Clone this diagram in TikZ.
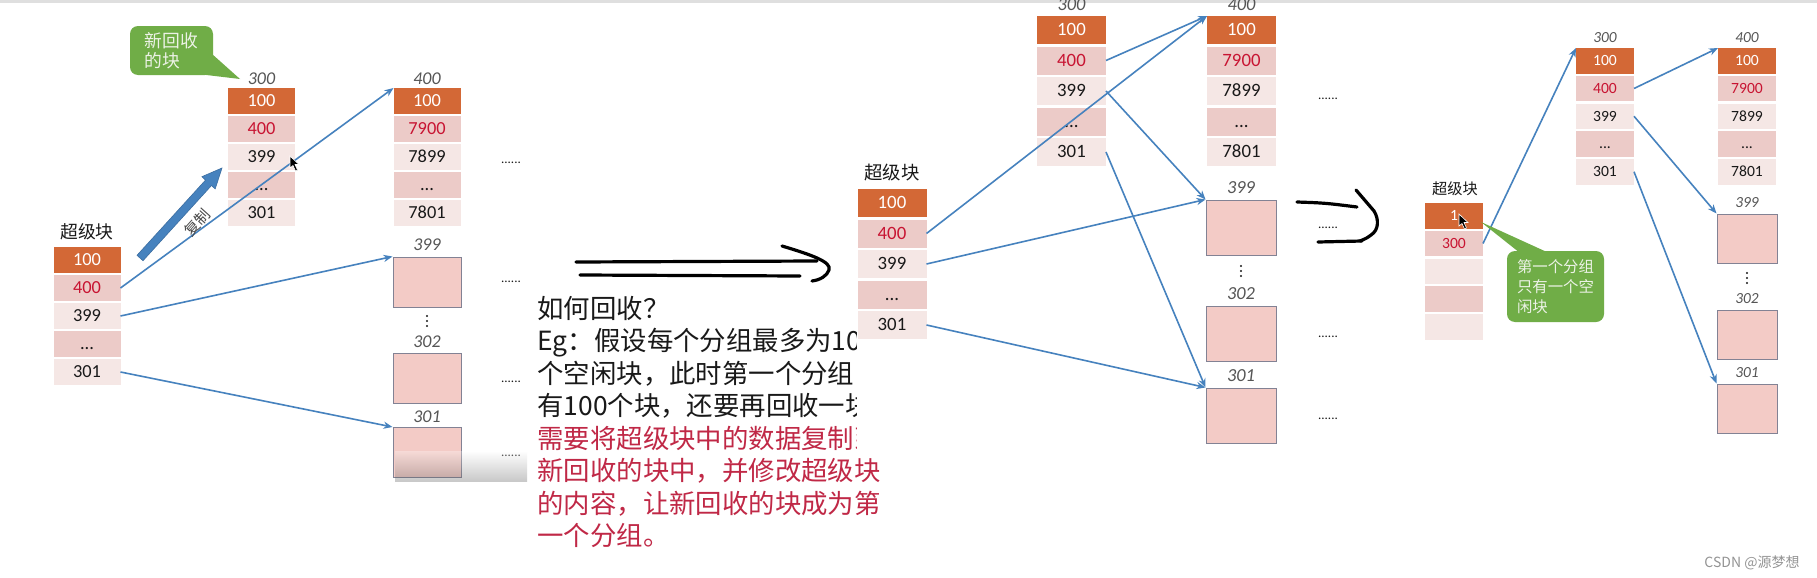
\documentclass[tikz,border=0pt]{standalone}
\usepackage{fontspec}
\setmainfont{Carlito}
\newfontfamily\cjk{Noto Sans CJK SC}
\usetikzlibrary{arrows.meta}
\definecolor{orC}{RGB}{211,104,54}
\definecolor{pkC}{RGB}{236,203,200}
\definecolor{ltC}{RGB}{245,231,229}
\definecolor{rdC}{RGB}{200,20,50}
\definecolor{txC}{RGB}{25,25,25}
\definecolor{bxC}{RGB}{243,203,198}
\definecolor{bxD}{RGB}{130,130,148}
\definecolor{arC}{RGB}{70,130,190}
\definecolor{gnC}{RGB}{112,173,71}
\definecolor{gnT}{RGB}{236,242,230}
\definecolor{lbC}{RGB}{85,85,85}
\definecolor{exR}{RGB}{192,40,70}
\newcommand{\threedots}{...}
\newcommand{\blockcol}[6]{%
  \foreach \f/\c/\t [count=\i] in {#6}{%
    \node[cell,#5,fill=\f,text=\c] (#1-\i) at (#2,{#3+(\i-1)*#4}) {\t};}}
\tikzset{
  cell/.style={inner sep=0pt, outer sep=0pt, draw=none, text depth=0pt},
  pA/.style={minimum width=33.5pt, minimum height=13pt, font=\fontsize{9.2pt}{10pt}\selectfont, text height=5.8pt},
  pB/.style={minimum width=34.5pt, minimum height=14pt, font=\fontsize{9.4pt}{10pt}\selectfont, text height=5.9pt},
  pC/.style={minimum width=29pt, minimum height=12.75pt, font=\fontsize{7.8pt}{9pt}\selectfont, text height=4.9pt},
  box/.style={fill=bxC, draw=bxD, line width=0.5pt, inner sep=0pt},
  bA/.style={minimum width=34pt, minimum height=25pt},
  bB/.style={minimum width=35pt, minimum height=27.5pt},
  bC/.style={minimum width=30pt, minimum height=24.5pt},
  lbl/.style={inner sep=0pt, text=lbC, font=\fontsize{#1}{10pt}\selectfont\itshape},
  sbl/.style={inner sep=0pt, text=txC, font=\cjk\fontsize{#1}{10pt}\selectfont},
  dts/.style={inner sep=0pt, anchor=base, text=txC, font=\fontsize{6.5pt}{7pt}\selectfont},
  conn/.style={draw=arC, line width=0.8pt, -{Stealth[length=4.5pt,width=3.6pt]}},
  hand/.style={draw=black, line width=1.6pt, line cap=round, line join=round},
  expl/.style={inner sep=0pt, anchor=base west, text=txC, font=\cjk\fontsize{13.2pt}{16pt}\selectfont},
  callout/.style={fill=gnC, rounded corners=4pt, inner sep=0pt, text=gnT, align=left},
}
\begin{document}
\begin{tikzpicture}[x=0.5pt,y=-0.5pt]
\useasboundingbox[fill=white] (0,0) rectangle (1817,578);
\draw[gray!25, line width=1.5pt] (0,1.5) -- (1817,1.5);

% ---------------- Panel 1 ----------------
\node[sbl=8.9pt] (s1l) at (87,232) {超级块};
\blockcol{s1}{87}{260}{28}{pA}{orC/white/100, pkC/rdC/400, ltC/txC/399, pkC/txC/\threedots, ltC/txC/301}
\node[lbl=9pt] (b1al) at (261.5,79) {300};
\blockcol{b1a}{261.5}{101}{28}{pA}{orC/white/100, pkC/rdC/400, ltC/txC/399, pkC/txC/\threedots, ltC/txC/301}
\node[lbl=9pt] (b1bl) at (427,79) {400};
\blockcol{b1b}{427}{101}{28}{pA}{orC/white/100, pkC/rdC/7900, ltC/txC/7899, pkC/txC/\threedots, ltC/txC/7801}
\node[lbl=9pt] (x1al) at (427,245) {399};
\node[box,bA] (x1a) at (427,282) {};
\fill[txC] (427,316) circle (1.1) (427,321) circle (1.1) (427,326) circle (1.1);
\node[lbl=9pt] (x1bl) at (427,342) {302};
\node[box,bA] (x1b) at (427,378) {};
\node[lbl=9pt] (x1cl) at (427,417) {301};
\node[box,bA] (x1c) at (427,452.5) {};
\node[dts] (d1a) at (511,163) {......};
\node[dts] (d1b) at (511,282) {......};
\node[dts] (d1c) at (511,382) {......};
\node[dts] (d1d) at (511,456) {......};
\shade[top color=white, bottom color=black!70, opacity=0.3] (395,451) rectangle (527,481);
\draw[conn] (s1-2.east) -- (b1b-1.north west);
\draw[conn] (s1-3.east) -- (x1a.north west);
\draw[conn] (s1-5.east) -- (x1c.north west);
% thick copy arrow
\filldraw[fill=arC, draw=arC!85!black, line width=0.3pt]
  (137.0,255.3) -- (205.5,180.1) -- (201.9,176.7) -- (222,168) -- (215.2,188.9) -- (211.5,185.5) -- (143.0,260.7) -- cycle;
\node[inner sep=0pt, rotate=48, text=txC!80, font=\cjk\fontsize{7.5pt}{8pt}\selectfont] (cp) at (197,223) {复制};
% callout 1
\fill[gnC] (198,74) -- (240,79) -- (212,54) -- cycle;
\node[callout, minimum width=41.5pt, minimum height=24.5pt, font=\cjk\fontsize{8.9pt}{10pt}\selectfont] (cb1) at (171.5,50.5) {新回收\\的块};
% cursor
\filldraw[black, draw=white, line width=0.3pt] (290,156) -- (290,168) -- (293,165.5) -- (295.5,171) -- (297.5,170) -- (295,164.5) -- (299,164.5) -- cycle;

% ---------------- hand arrow 1 ----------------
\draw[hand] (576,262) -- (817,261);
\draw[hand] (580,275) -- (800,276);
\draw[hand] (782,246) .. controls (812,255) and (832,262) .. (829,270) .. controls (827,276) and (820,280) .. (812,281);

% ---------------- explanation text ----------------
\begin{scope}
\clip (530,285) -- (856,285) -- (856,455) -- (900,455) -- (900,560) -- (530,560) -- cycle;
\node[expl] (e1) at (537,318) {如何回收？};
\node[expl] (e2) at (537,350.5) {Eg：假设每个分组最多为100};
\node[expl] (e3) at (537,383) {个空闲块，此时第一个分组};
\node[expl] (e4) at (537,415.5) {有100个块，还要再回收一块};
\node[expl, text=exR] (e5) at (537,448) {需要将超级块中的数据复制到};
\node[expl, text=exR] (e6) at (537,480.5) {新回收的块中，并修改超级块};
\node[expl, text=exR] (e7) at (537,513) {的内容，让新回收的块成为第};
\node[expl, text=exR] (e8) at (537,545.5) {一个分组。};
\end{scope}

% ---------------- Panel 2 ----------------
\node[sbl=9.2pt] (s2l) at (892,173) {超级块};
\blockcol{s2}{892}{203}{30.5}{pB}{orC/white/100, pkC/rdC/400, ltC/txC/399, pkC/txC/\threedots, ltC/txC/301}
\node[lbl=9.2pt] (b2al) at (1071.5,5) {300};
\blockcol{b2a}{1071.5}{30}{30.5}{pB}{orC/white/100, pkC/rdC/400, ltC/txC/399, pkC/txC/\threedots, ltC/txC/301}
\node[lbl=9.2pt] (b2bl) at (1241.5,5) {400};
\blockcol{b2b}{1241.5}{30}{30.5}{pB}{orC/white/100, pkC/rdC/7900, ltC/txC/7899, pkC/txC/\threedots, ltC/txC/7801}
\node[lbl=9.2pt] (x2al) at (1241,188) {399};
\node[box,bB] (x2a) at (1241,227.5) {};
\fill[txC] (1241,266) circle (1.1) (1241,271) circle (1.1) (1241,276) circle (1.1);
\node[lbl=9.2pt] (x2bl) at (1241,294) {302};
\node[box,bB] (x2b) at (1241,334) {};
\node[lbl=9.2pt] (x2cl) at (1241,376) {301};
\node[box,bB] (x2c) at (1241,415.5) {};
\node[dts] (d2a) at (1328,99) {......};
\node[dts] (d2b) at (1328,228) {......};
\node[dts] (d2c) at (1328,337) {......};
\node[dts] (d2d) at (1328,419) {......};
\draw[conn] (s2-2.east) -- (b2b-1.north west);
\draw[conn] (b2a-2.east) -- (b2b-1.north west);
\draw[conn] (b2a-3.east) -- (x2a.north west);
\draw[conn] (b2a-5.east) -- (x2c.north west);
\draw[conn] (s2-3.east) -- (x2a.north west);
\draw[conn] (s2-5.east) -- (x2c.north west);

% ---------------- hand arrow 2 ----------------
\draw[hand] (1297,202) .. controls (1325,203) .. (1357,207);
\draw[hand] (1356,190) -- (1374,211) .. controls (1379,219) and (1379,230) .. (1371,235) .. controls (1367,238) .. (1360,241);
\draw[hand] (1318,242) -- (1362,241);

% ---------------- Panel 3 ----------------
\node[sbl=7.6pt] (s3l) at (1455,189) {超级块};
\blockcol{s3}{1454}{215.75}{27.75}{pC}{orC/white/1, pkC/rdC/300, ltC/txC/{}, pkC/txC/{}, ltC/txC/{}}
\node[lbl=7.7pt] (b3al) at (1605,38) {300};
\blockcol{b3a}{1605}{60.75}{27.75}{pC}{orC/white/100, pkC/rdC/400, ltC/txC/399, pkC/txC/\threedots, ltC/txC/301}
\node[lbl=7.7pt] (b3bl) at (1747,38) {400};
\blockcol{b3b}{1747}{60.75}{27.75}{pC}{orC/white/100, pkC/rdC/7900, ltC/txC/7899, pkC/txC/\threedots, ltC/txC/7801}
\node[lbl=7.7pt] (x3al) at (1747,203) {399};
\node[box,bC] (x3a) at (1747,238.5) {};
\fill[txC] (1747,273) circle (1.1) (1747,278) circle (1.1) (1747,283) circle (1.1);
\node[lbl=7.7pt] (x3bl) at (1747,299) {302};
\node[box,bC] (x3b) at (1747,334.5) {};
\node[lbl=7.7pt] (x3cl) at (1747,373) {301};
\node[box,bC] (x3c) at (1747,408.5) {};
\draw[conn] (s3-2.east) -- (b3a-1.north west);
\draw[conn] (b3a-2.east) -- (b3b-1.north west);
\draw[conn] (b3a-3.east) -- (x3a.north west);
\draw[conn] (b3a-5.east) -- (x3c.north west);
% callout 2
\fill[gnC] (1520,253) -- (1481,222) -- (1549,253) -- cycle;
\node[callout, minimum width=48.5pt, minimum height=35.5pt, font=\cjk\fontsize{7.7pt}{10pt}\selectfont] (cb2) at (1555.5,286.5) {第一个分组\\只有一个空\\闲块};
% cursor
\filldraw[black, draw=white, line width=0.3pt] (1459,214) -- (1459,226) -- (1462,223.5) -- (1464.5,229) -- (1466.5,228) -- (1464,222.5) -- (1468,222.5) -- cycle;

% watermark
\node[inner sep=0pt, text=black!42, font=\cjk\fontsize{7pt}{8pt}\selectfont] (wm) at (1752,563) {CSDN @源梦想};
\end{tikzpicture}
\end{document}
